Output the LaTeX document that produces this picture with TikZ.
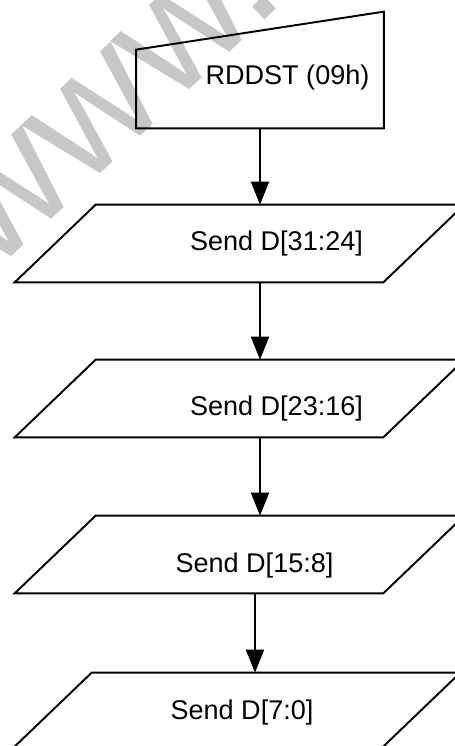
\documentclass[tikz,border=0pt]{standalone}
\usepackage{fontspec}
\setmainfont{Liberation Sans}
\usetikzlibrary{shapes.geometric, arrows.meta, positioning, calc}
\tikzset{
    inputbox/.style={rectangle, minimum width=4.94cm, minimum height=1.56cm, inner sep=0pt},
    sendbox/.style={rectangle, minimum width=8.98cm, minimum height=1.54cm, inner sep=0pt},
    outline/.style={line width=1.1pt, line join=miter},
    boxtext/.style={font=\fontsize{15.4}{18}\selectfont, anchor=base, inner sep=0pt},
    watermark/.style={font=\fontsize{96}{100}\selectfont, text=black!22, inner sep=0pt},
    arrow/.style={line width=1.1pt,->,>={Triangle[length=0.46cm,width=0.36cm]}}
}
\begin{document}
\begin{tikzpicture}[x=0.02cm, y=-0.02cm]
    \useasboundingbox (0,0) rectangle (454,746);
    % watermark
    \node[watermark, rotate=43, anchor=base east] (wm) at (288,-2) {www.};
    % manual input
    \node[inputbox] (rddst) at (260,89) {};
    \draw[outline] (rddst.north west) -- (rddst.south west) -- (rddst.south east) -- ([yshift=0.76cm]rddst.north east) -- cycle;
    \node[boxtext] (t0) at (287.5,85) {RDDST (09h)};
    % send steps
    \node[sendbox] (d1) at (239.5,243.5) {};
    \node[boxtext] (t1) at (276.5,251) {Send D[31:24]};
    \node[sendbox] (d2) at (239.5,398.5) {};
    \node[boxtext] (t2) at (276.5,415) {Send D[23:16]};
    \node[sendbox] (d3) at (239.5,554.5) {};
    \node[boxtext] (t3) at (254.5,572) {Send D[15:8]};
    \node[sendbox] (d4) at (235.5,711.5) {};
    \node[boxtext] (t4) at (242,719) {Send D[7:0]};
    \foreach \n in {d1,d2,d3,d4}
        \draw[outline] ([xshift=1.62cm]\n.north west) -- (\n.north east) -- ([xshift=-1.62cm]\n.south east) -- (\n.south west) -- cycle;
    \coordinate (c4) at ([xshift=-0.1cm]rddst.south);
    \draw[arrow] (rddst.south) -- (rddst.south |- d1.north);
    \draw[arrow] (rddst.south |- d1.south) -- (rddst.south |- d2.north);
    \draw[arrow] (rddst.south |- d2.south) -- (rddst.south |- d3.north);
    \draw[arrow] (c4 |- d3.south) -- (c4 |- d4.north);
\end{tikzpicture}
\end{document}
